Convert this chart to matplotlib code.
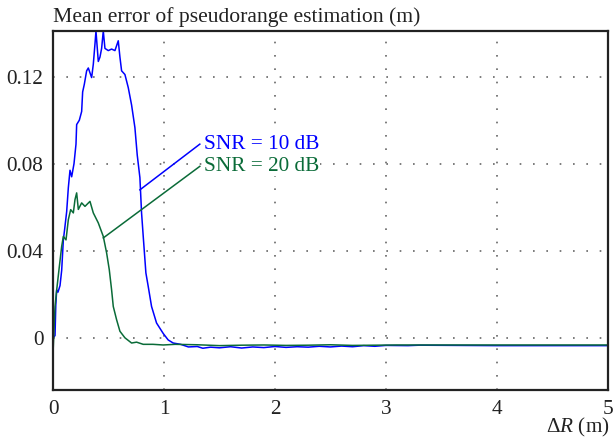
import matplotlib.pyplot as plt
from matplotlib.ticker import FixedLocator, FuncFormatter

plt.rcParams['font.family'] = ['Liberation Serif', 'DejaVu Serif']
plt.rcParams['mathtext.fontset'] = 'custom'
plt.rcParams['mathtext.it'] = 'Liberation Serif:italic'
plt.rcParams['mathtext.rm'] = 'Liberation Serif'

# SNR = 10 dB
dr_10 = [0.0, 0.018, 0.025, 0.033, 0.045, 0.063, 0.078, 0.093, 0.105, 0.123, 0.138,
         0.153, 0.168, 0.189, 0.207, 0.213, 0.237, 0.258, 0.267, 0.282, 0.303,
         0.318, 0.348, 0.363, 0.378, 0.387, 0.408, 0.423, 0.438, 0.453, 0.468,
         0.498, 0.528, 0.558, 0.588, 0.603, 0.618, 0.648, 0.678, 0.708, 0.738,
         0.759, 0.783, 0.798, 0.813, 0.837, 0.858, 0.888, 0.933, 0.993, 1.038,
         1.083, 1.15, 1.22, 1.3, 1.35, 1.42, 1.5, 1.6, 1.7, 1.8, 1.9, 2.0,
         2.1, 2.2, 2.3, 2.4, 2.5, 2.6, 2.7, 2.8, 2.9, 3.0, 3.2, 3.3, 4.0, 5.0]
err_10 = [0.0, 0.001, 0.015, 0.022, 0.021, 0.024, 0.031, 0.045, 0.050, 0.058, 0.069,
          0.077, 0.074, 0.080, 0.089, 0.098, 0.100, 0.104, 0.113, 0.1165, 0.1227,
          0.124, 0.1196, 0.1257, 0.135, 0.141, 0.127, 0.129, 0.133, 0.141, 0.133,
          0.132, 0.1327, 0.132, 0.1365, 0.129, 0.1227, 0.121, 0.115, 0.107, 0.0966,
          0.084, 0.0736, 0.0574, 0.0466, 0.0298, 0.0236, 0.0144, 0.0068, 0.002, -0.001,
          -0.0024, -0.003, -0.0042, -0.004, -0.0048, -0.0043, -0.0046, -0.0041, -0.0047,
          -0.0042, -0.0045, -0.0040, -0.0044, -0.0041, -0.0043, -0.0039, -0.0042,
          -0.0038, -0.0041, -0.0036, -0.0039, -0.0035, -0.0036, -0.0034, -0.0036, -0.0036]

# SNR = 20 dB
dr_20 = [0.0, 0.018, 0.033, 0.057, 0.078, 0.093, 0.117, 0.138, 0.159, 0.183,
         0.198, 0.213, 0.228, 0.258, 0.288, 0.333, 0.363, 0.408, 0.453, 0.483,
         0.507, 0.528, 0.543, 0.573, 0.603, 0.648, 0.708, 0.753, 0.813, 0.9,
         0.993, 1.1, 1.3, 1.5, 1.7, 1.9, 2.1, 2.3, 2.5, 2.7, 2.9, 3.1, 4.0, 5.0]
err_20 = [-0.007, 0.0144, 0.022, 0.0328, 0.042, 0.0466, 0.045, 0.0543, 0.0589, 0.0574,
          0.0635, 0.0666, 0.059, 0.062, 0.0604, 0.0627, 0.0574, 0.0528, 0.0466, 0.039,
          0.0313, 0.022, 0.0144, 0.0083, 0.003, 0.0, -0.0024, -0.002, -0.003, -0.003,
          -0.0033, -0.003, -0.0032, -0.0036, -0.0034, -0.0033, -0.0035, -0.0034,
          -0.0032, -0.0035, -0.0034, -0.0033, -0.0033, -0.0033]

# extremos de las líneas guía de las etiquetas
lead_10 = ([0.783, 1.323], [0.068, 0.089])
lead_20 = ([0.453, 1.323], [0.0459, 0.0788])

blue = '#0000ff'
green = '#0a6b38'
fs = 15.3

fig = plt.figure(figsize=(6.13, 4.41), dpi=100)
ax = fig.add_axes([0.0865, 0.1156, 0.905, 0.8141])

ax.plot(dr_10, err_10, color=blue, lw=1.1)
ax.plot(dr_20, err_20, color=green, lw=1.1)

ax.set_xlim(0, 5)
ax.set_ylim(-0.024, 0.141)
ax.xaxis.set_major_locator(FixedLocator([0, 1, 2, 3, 4, 5]))
ax.yaxis.set_major_locator(FixedLocator([0, 0.04, 0.08, 0.12]))
ax.yaxis.set_major_formatter(FuncFormatter(lambda v, p: '%g' % round(v, 2)))
ax.tick_params(length=0, labelsize=fs, pad=7, labelcolor='#222222')

for gx in [1, 2, 3, 4]:
    ax.axvline(gx, color='#666666', lw=1.2, ls=(0, (1, 7)), zorder=0)
for gy in [0, 0.04, 0.08, 0.12]:
    ax.axhline(gy, color='#666666', lw=1.2, ls=(0, (1, 7)), zorder=0)

for s in ax.spines.values():
    s.set_linewidth(1.6)
    s.set_color('#222222')

ax.plot(*lead_10, color=blue, lw=1.1)
ax.plot(*lead_20, color=green, lw=1.1)
box = dict(facecolor='white', edgecolor='none', pad=0.5)
ax.text(1.36, 0.089, 'SNR = 10 dB', color=blue, fontsize=fs, va='center', ha='left',
        bbox=box)
ax.text(1.36, 0.0788, 'SNR = 20 dB', color=green, fontsize=fs, va='center', ha='left',
        bbox=box)

fig.text(0.087, 0.962, 'Mean error of pseudorange estimation (m)', fontsize=15.6,
         va='center', ha='left', color='#222222')
fig.text(0.995, 0.03, r'$\Delta R$ (m)', fontsize=fs, ha='right', va='center',
         color='#222222')

fig.savefig('out.png', dpi=100)
